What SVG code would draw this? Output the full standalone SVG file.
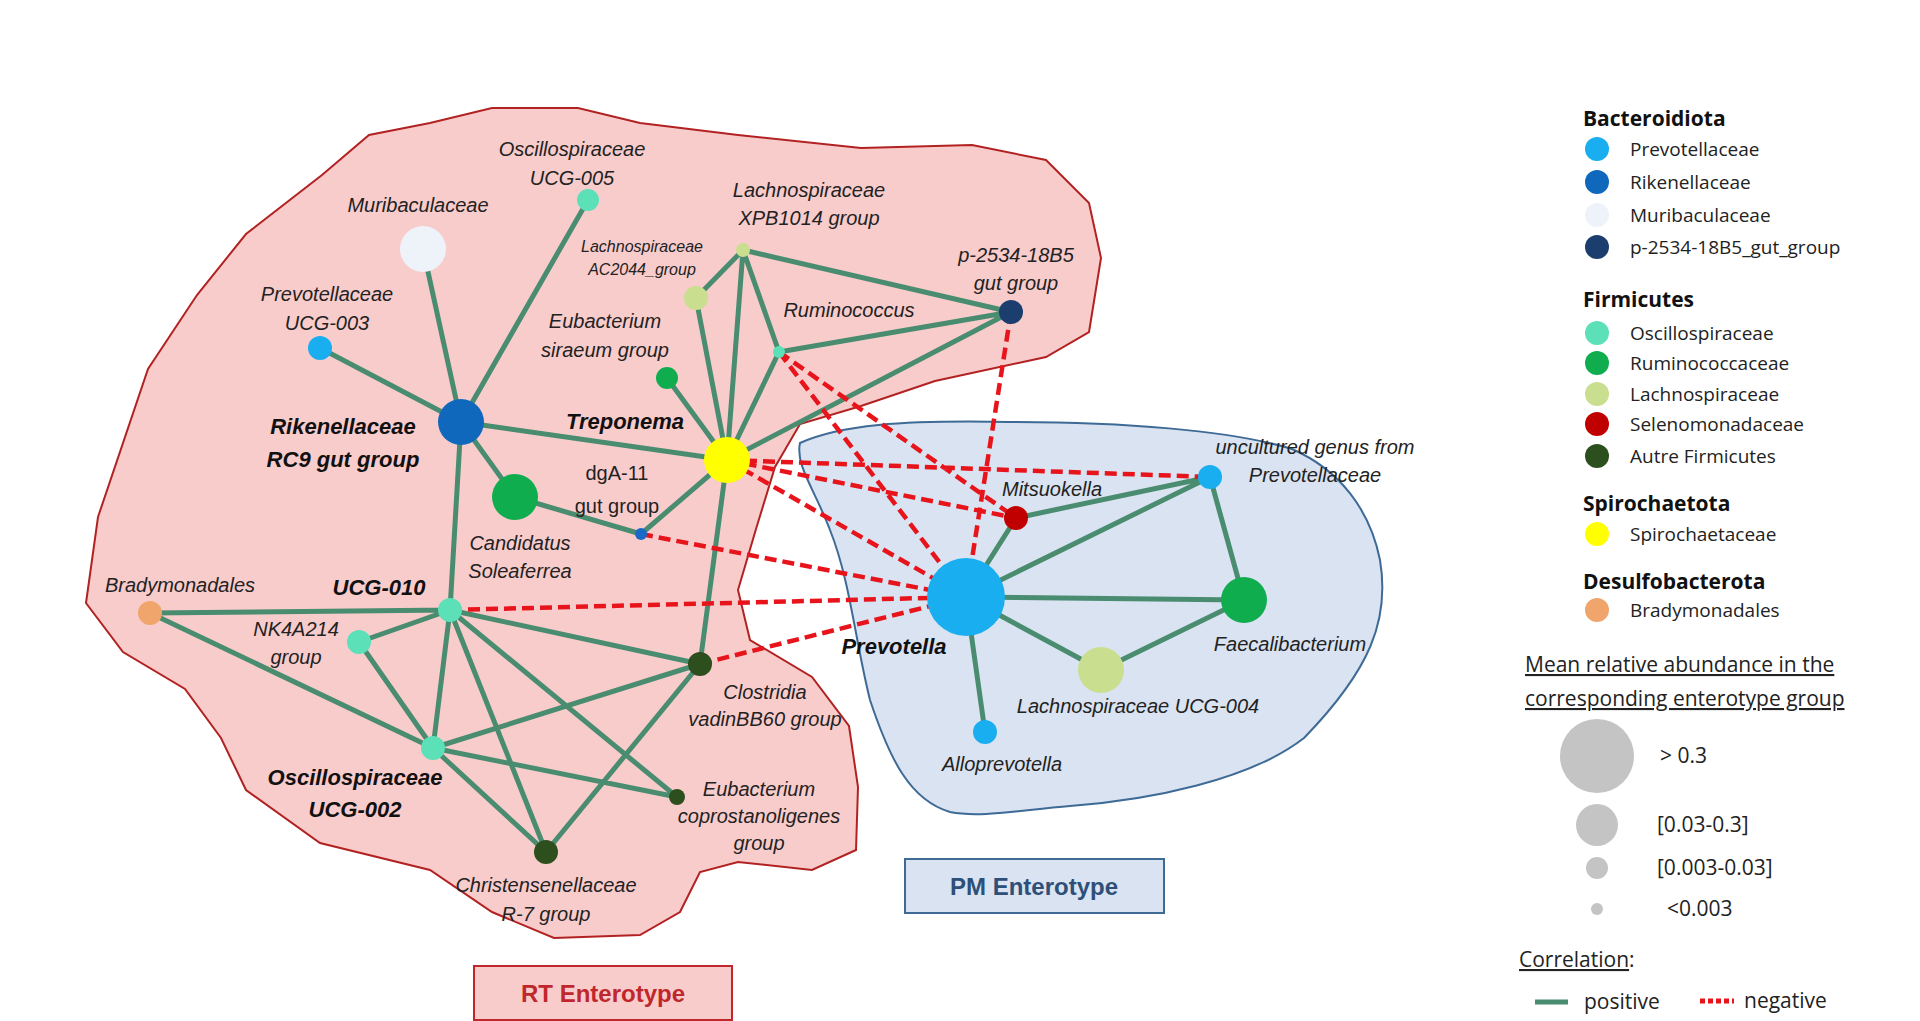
<svg xmlns="http://www.w3.org/2000/svg" width="1920" height="1021" viewBox="0 0 1920 1021">
<style>
.p{stroke:#4a8c70;stroke-width:5;fill:none}
.n{stroke:#e8141c;stroke-width:4.5;stroke-dasharray:12 6;fill:none}
.l{font-family:"Liberation Sans",sans-serif;font-style:italic;font-size:20px;fill:#222;text-anchor:middle}
.b{font-weight:bold;font-size:22px;fill:#111}
.g{font-family:"Open Sans","Liberation Sans",sans-serif;font-size:19px;fill:#222}
.h{font-weight:bold;font-size:21px;fill:#111}
</style>
<rect width="1920" height="1021" fill="#fff"/>
<g id="regions">
<path d="M322,175 L369,135 L430,123 L492,108 L578,108 L640,123 L738,135 L861,148 L972,145 L1046,160 L1089,203 L1101,258 L1089,332 L1046,357 L935,381 L861,406 L800,424 L775,467 L756,529 L738,590 L750,640 L812,677 L849,726 L858,787 L856,850 L812,870 L738,862 L700,872 L680,912 L640,935 L554,938 L492,912 L430,870 L320,843 L246,790 L221,738 L185,689 L123,652 L86,603 L98,517 L148,369 L197,295 L246,234 Z" fill="#f9cccc" stroke="#b22222" stroke-width="2"/>
<path d="M800,443 C840,425 900,420 1009,422 C1120,422 1230,430 1292,449 C1340,470 1370,510 1380,560 C1390,620 1370,670 1304,738 C1250,780 1150,800 1070,806 C1020,810 980,818 950,812 C910,800 890,760 870,700 C855,640 850,580 830,530 C815,490 795,465 800,443 Z" fill="#dae3f1" stroke="#3e6a96" stroke-width="2"/>
<rect x="474" y="966" width="258" height="54" fill="#f9cccc" stroke="#c0272d" stroke-width="2"/>
<text x="603" y="1002" text-anchor="middle" font-family="Liberation Sans,sans-serif" font-weight="bold" font-size="24" fill="#c0272d">RT Enterotype</text>
<rect x="905" y="859" width="259" height="54" fill="#dae3f1" stroke="#3e6a96" stroke-width="2"/>
<text x="1034" y="895" text-anchor="middle" font-family="Liberation Sans,sans-serif" font-weight="bold" font-size="24" fill="#2d4f78">PM Enterotype</text>
</g>
<g id="connectors">
<path class="p" d="M423,249L461,422M588,200L461,422M320,348L461,422M461,422L727,460M461,422L515,497M461,422L450,610M515,497L641,534M641,534L727,460M727,460L667,378M727,460L696,298M727,460L743,250M727,460L779,352M727,460L1011,312M727,460L700,664M696,298L743,250M743,250L779,352M743,250L1011,312M779,352L1011,312M966,597L1016,518M966,597L1210,477M966,597L1244,600M966,597L1101,670M966,597L985,732M1016,518L1210,477M1210,477L1244,600M1244,600L1101,670M150,613L450,610M150,613L433,748M450,610L359,642M359,642L433,748M450,610L433,748M450,610L546,852M450,610L677,797M450,610L700,664M433,748L700,664M433,748L677,797M433,748L546,852M546,852L700,664"/>
<path class="n" d="M727,460L1210,477M727,460L1016,518M727,460L966,597M779,352L1016,518M779,352L966,597M1011,312L966,597M641,534L966,597M450,610L966,597M700,664L966,597"/>
</g>
<g id="nodes">
<g id="n-muri"><circle cx="423" cy="249" r="23" fill="#eef3f9"/><text class="l" x="418" y="212">Muribaculaceae</text></g>
<g id="n-ucg005"><circle cx="588" cy="200" r="11" fill="#5ce0b8"/><text class="l" x="572" y="156">Oscillospiraceae</text><text class="l" x="572" y="185">UCG-005</text></g>
<g id="n-ucg003"><circle cx="320" cy="348" r="12" fill="#19aeef"/><text class="l" x="327" y="301">Prevotellaceae</text><text class="l" x="327" y="330">UCG-003</text></g>
<g id="n-rik"><circle cx="461" cy="422" r="23" fill="#1068bd"/><text class="l b" x="343" y="434">Rikenellaceae</text><text class="l b" x="343" y="467">RC9 gut group</text></g>
<g id="n-cand"><circle cx="515" cy="497" r="23" fill="#0fad4e"/><text class="l" x="520" y="550">Candidatus</text><text class="l" x="520" y="578">Soleaferrea</text></g>
<g id="n-dga"><circle cx="641" cy="534" r="6" fill="#1a68c8"/><text class="l" style="font-style:normal" x="617" y="480">dgA-11</text><text class="l" style="font-style:normal" x="617" y="513">gut group</text></g>
<g id="n-trep"><circle cx="727" cy="460" r="23" fill="#ffff00"/><text class="l b" x="625" y="429">Treponema</text></g>
<g id="n-sir"><circle cx="667" cy="378" r="11" fill="#0fad4e"/><text class="l" x="605" y="328">Eubacterium</text><text class="l" x="605" y="357">siraeum group</text></g>
<g id="n-ac"><circle cx="696" cy="298" r="12" fill="#c9df8f"/><text class="l" style="font-size:16px" x="642" y="252">Lachnospiraceae</text><text class="l" style="font-size:16px" x="642" y="275">AC2044_group</text></g>
<g id="n-xpb"><circle cx="743" cy="250" r="7" fill="#c9df8f"/><text class="l" x="809" y="197">Lachnospiraceae</text><text class="l" x="809" y="225">XPB1014 group</text></g>
<g id="n-rum"><circle cx="779" cy="352" r="6" fill="#5ce0b8"/><text class="l" x="849" y="317">Ruminococcus</text></g>
<g id="n-p25"><circle cx="1011" cy="312" r="12" fill="#1c3e6e"/><text class="l" x="1016" y="262">p-2534-18B5</text><text class="l" x="1016" y="290">gut group</text></g>
<g id="n-unc"><circle cx="1210" cy="477" r="12" fill="#19aeef"/><text class="l" x="1315" y="454">uncultured genus from</text><text class="l" x="1315" y="482">Prevotellaceae</text></g>
<g id="n-mit"><circle cx="1016" cy="518" r="12" fill="#c00000"/><text class="l" x="1052" y="496">Mitsuokella</text></g>
<g id="n-prev"><circle cx="966" cy="597" r="39" fill="#19aeef"/><text class="l b" x="894" y="654">Prevotella</text></g>
<g id="n-fae"><circle cx="1244" cy="600" r="23" fill="#0fad4e"/><text class="l" x="1290" y="651">Faecalibacterium</text></g>
<g id="n-l004"><circle cx="1101" cy="670" r="23" fill="#c9df8f"/><text class="l" x="1138" y="713">Lachnospiraceae UCG-004</text></g>
<g id="n-allo"><circle cx="985" cy="732" r="12" fill="#19aeef"/><text class="l" x="1002" y="771">Alloprevotella</text></g>
<g id="n-brady"><circle cx="150" cy="613" r="12" fill="#f0a56c"/><text class="l" x="180" y="592">Bradymonadales</text></g>
<g id="n-ucg010"><circle cx="450" cy="610" r="12" fill="#5ce0b8"/><text class="l b" x="379" y="595">UCG-010</text></g>
<g id="n-nk"><circle cx="359" cy="642" r="12" fill="#5ce0b8"/><text class="l" x="296" y="636">NK4A214</text><text class="l" x="296" y="664">group</text></g>
<g id="n-clos"><circle cx="700" cy="664" r="12" fill="#2d4f1e"/><text class="l" x="765" y="699">Clostridia</text><text class="l" x="765" y="726">vadinBB60 group</text></g>
<g id="n-ucg002"><circle cx="433" cy="748" r="12" fill="#5ce0b8"/><text class="l b" x="355" y="785">Oscillospiraceae</text><text class="l b" x="355" y="817">UCG-002</text></g>
<g id="n-copro"><circle cx="677" cy="797" r="8" fill="#2d4f1e"/><text class="l" x="759" y="796">Eubacterium</text><text class="l" x="759" y="823">coprostanoligenes</text><text class="l" x="759" y="850">group</text></g>
<g id="n-chr"><circle cx="546" cy="852" r="12" fill="#2d4f1e"/><text class="l" x="546" y="892">Christensenellaceae</text><text class="l" x="546" y="921">R-7 group</text></g>
</g>
<g id="legend">
<text class="g h" x="1583" y="126">Bacteroidiota</text>
<circle cx="1597" cy="149" r="12" fill="#19aeef"/><text class="g" x="1630" y="156">Prevotellaceae</text>
<circle cx="1597" cy="182" r="12" fill="#1068bd"/><text class="g" x="1630" y="189">Rikenellaceae</text>
<circle cx="1597" cy="215" r="12" fill="#eef3f9"/><text class="g" x="1630" y="222">Muribaculaceae</text>
<circle cx="1597" cy="247" r="12" fill="#1c3e6e"/><text class="g" x="1630" y="254">p-2534-18B5_gut_group</text>
<text class="g h" x="1583" y="307">Firmicutes</text>
<circle cx="1597" cy="333" r="12" fill="#5ce0b8"/><text class="g" x="1630" y="340">Oscillospiraceae</text>
<circle cx="1597" cy="363" r="12" fill="#0fad4e"/><text class="g" x="1630" y="370">Ruminococcaceae</text>
<circle cx="1597" cy="394" r="12" fill="#c9df8f"/><text class="g" x="1630" y="401">Lachnospiraceae</text>
<circle cx="1597" cy="424" r="12" fill="#c00000"/><text class="g" x="1630" y="431">Selenomonadaceae</text>
<circle cx="1597" cy="456" r="12" fill="#2d4f1e"/><text class="g" x="1630" y="463">Autre Firmicutes</text>
<text class="g h" x="1583" y="511">Spirochaetota</text>
<circle cx="1597" cy="534" r="12" fill="#ffff00"/><text class="g" x="1630" y="541">Spirochaetaceae</text>
<text class="g h" x="1583" y="589">Desulfobacterota</text>
<circle cx="1597" cy="610" r="12" fill="#f0a56c"/><text class="g" x="1630" y="617">Bradymonadales</text>
<text class="g" x="1525" y="672" style="font-size:21px;text-decoration:underline">Mean relative abundance in the</text>
<text class="g" x="1525" y="706" style="font-size:21px;text-decoration:underline">corresponding enterotype group</text>
<circle cx="1597" cy="756" r="37" fill="#c4c4c4"/><text class="g" x="1660" y="763" style="font-size:21px">&gt; 0.3</text>
<circle cx="1597" cy="825" r="21" fill="#c4c4c4"/><text class="g" x="1657" y="832" style="font-size:21px">[0.03-0.3]</text>
<circle cx="1597" cy="868" r="11" fill="#c4c4c4"/><text class="g" x="1657" y="875" style="font-size:21px">[0.003-0.03]</text>
<circle cx="1597" cy="909" r="6" fill="#c4c4c4"/><text class="g" x="1667" y="916" style="font-size:21px">&lt;0.003</text>
<text class="g" x="1519" y="967" style="font-size:21px"><tspan text-decoration="underline">Correlation</tspan>:</text>
<line x1="1535" y1="1002" x2="1568" y2="1002" class="p"/><text class="g" x="1584" y="1009" style="font-size:21px">positive</text>
<line x1="1700" y1="1001" x2="1734" y2="1001" stroke="#e8141c" stroke-width="5" stroke-dasharray="5 3"/><text class="g" x="1744" y="1008" style="font-size:21px">negative</text>
</g>
</svg>
